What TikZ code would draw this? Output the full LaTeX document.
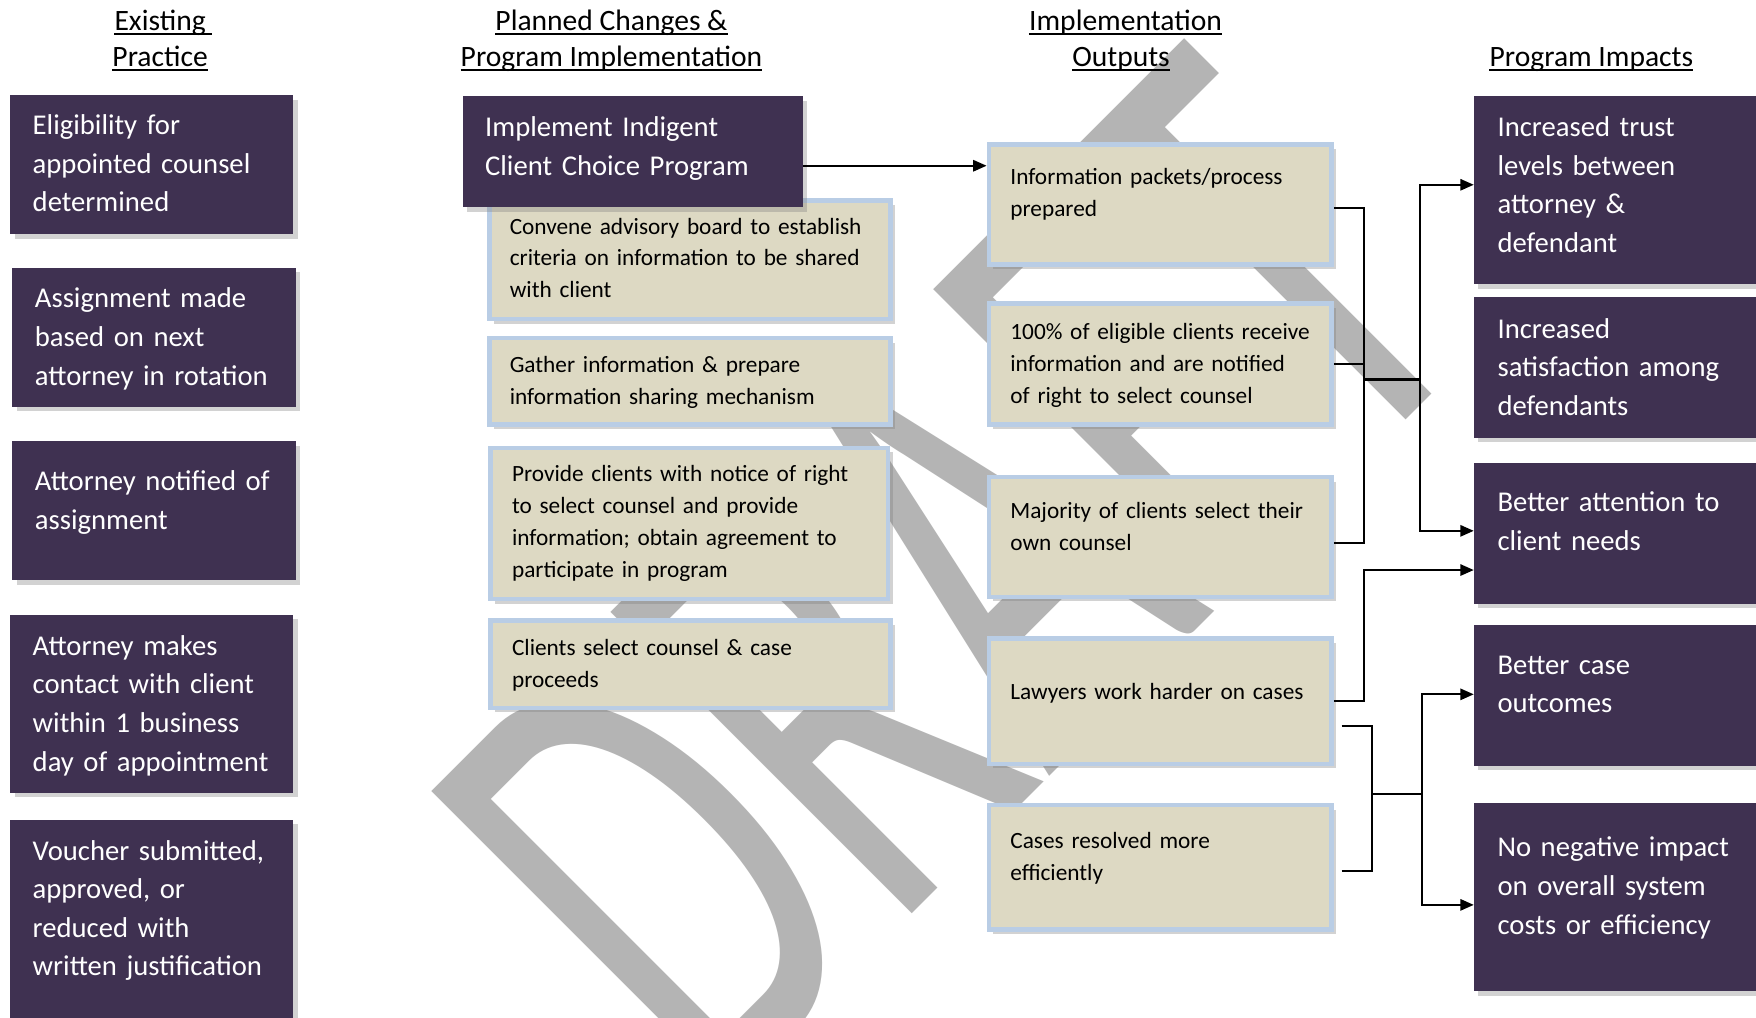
\documentclass[tikz,border=0pt]{standalone}
\usepackage{fontspec}
\setmainfont{Carlito}
\usetikzlibrary{arrows.meta,shadows,calc}
\definecolor{purp}{HTML}{3F3151}
\definecolor{tanf}{HTML}{DDD9C3}
\definecolor{bord}{HTML}{B9CDE5}
\definecolor{wmgray}{RGB}{180,180,180}
\tikzset{
  pbox/.style={fill=purp, draw=none, inner sep=0pt, outer sep=0pt,
    drop shadow={opacity=0.35, shadow xshift=4pt, shadow yshift=-4pt}},
  tbox/.style={fill=tanf, draw=bord, line width=4pt, inner sep=0pt,
    drop shadow={opacity=0.35, shadow xshift=4pt, shadow yshift=-4pt}},
  ptxt/.style={anchor=base west, inner sep=0pt, text=white, align=left,
    text width=250pt, font=\fontsize{25.6}{34.5}\selectfont},
  ttxt/.style={anchor=base west, inner sep=0pt, text=black, align=left,
    text width=330pt, font=\fontsize{20.8}{28.5}\selectfont},
  hdr/.style={anchor=base, inner sep=0pt, font=\fontsize{26.4}{32}\selectfont},
  uline/.style={line width=1.6pt, black},
  conn/.style={line width=1.5pt, black},
  junc/.style={line width=2.4pt, black},
  arr/.style={line width=2pt, black, -{Triangle[length=12pt,width=10pt]}},
}
\begin{document}
\begin{tikzpicture}[x=1pt,y=-1pt]
\useasboundingbox[fill=white] (0,0) rectangle (1568,909);
% watermark
\node[rotate=45, xshift=-27.3pt, yscale=1.625, anchor=north west, inner sep=0pt,
  text=wmgray, font=\fontsize{365}{365}\selectfont] (draft) at (387,705) {DRAFT};
% headers
\node[hdr] (h1a) at (143,27) {Existing};
\node[hdr] (h1b) at (143,59) {Practice};
\node[hdr] (h2a) at (546,27) {Planned Changes \&};
\node[hdr] (h2b) at (546,59) {Program Implementation};
\node[hdr] (h3a) at (1005,27) {Implementation};
\node[hdr] (h3b) at (1001,59) {Outputs};
\node[hdr] (h4) at (1421,59) {Program Impacts};
\foreach \h in {h1b,h2a,h2b,h3a,h3b,h4}
  \draw[uline] ($(\h.base west)+(0,3.5)$) -- ($(\h.base east)+(0,3.5)$);
\draw[uline] ($(h1a.base west)+(0,3.5)$) -- ($(h1a.base east)+(5,3.5)$);
% left column
\node[pbox, minimum width=253, minimum height=124] (l1) at (135.5,147) {};
\node[ptxt] (l1t) at (29,120) {Eligibility for\\appointed counsel\\determined};
\node[pbox, minimum width=253, minimum height=124] (l2) at (137.5,301) {};
\node[ptxt] (l2t) at (31,275) {Assignment made\\based on next\\attorney in rotation};
\node[pbox, minimum width=253, minimum height=124] (l3) at (137.5,456) {};
\node[ptxt] (l3t) at (31,438) {Attorney notified of\\assignment};
\node[pbox, minimum width=253, minimum height=159] (l4) at (135.5,628.5) {};
\node[ptxt] (l4t) at (29,585) {Attorney makes\\contact with client\\within 1 business\\day of appointment};
\node[pbox, minimum width=253, minimum height=184] (l5) at (135.5,824) {};
\node[ptxt] (l5t) at (29,768) {Voucher submitted,\\approved, or\\reduced with\\written justification};
% middle column
\node[tbox, minimum width=358, minimum height=106] (c1) at (616,232) {};
\node[ttxt] (c1t) at (455,209) {Convene advisory board to establish\\criteria on information to be shared\\with client};
\node[pbox, minimum width=304, minimum height=99] (impl) at (565,135.5) {};
\node[ptxt] (implt) at (433,122) {Implement Indigent\\Client Choice Program};
\node[tbox, minimum width=358, minimum height=77] (c2) at (616,340.5) {};
\node[ttxt] (c2t) at (455,333) {Gather information \& prepare\\information sharing mechanism};
\node[tbox, minimum width=355, minimum height=135] (c3) at (615.5,467.5) {};
\node[ttxt] (c3t) at (457,430) {Provide clients with notice of right\\to select counsel and provide\\information; obtain agreement to\\participate in program};
\node[tbox, minimum width=357, minimum height=78] (c4) at (616.5,593) {};
\node[ttxt] (c4t) at (457,585) {Clients select counsel \& case\\proceeds};
% outputs column
\node[tbox, minimum width=306, minimum height=107] (o1) at (1036,182.5) {};
\node[ttxt] (o1t) at (902,165) {Information packets/process\\prepared};
\node[tbox, minimum width=306, minimum height=108] (o2) at (1036,325) {};
\node[ttxt] (o2t) at (902,303) {100\% of eligible clients receive\\information and are notified\\of right to select counsel};
\node[tbox, minimum width=306, minimum height=107] (o3) at (1036,479.5) {};
\node[ttxt] (o3t) at (902,463) {Majority of clients select their\\own counsel};
\node[tbox, minimum width=306, minimum height=112] (o4) at (1036,626) {};
\node[ttxt] (o4t) at (902,625) {Lawyers work harder on cases};
\node[tbox, minimum width=306, minimum height=111] (o5) at (1036,774.5) {};
\node[ttxt] (o5t) at (902,758) {Cases resolved more\\efficiently};
% impacts column
\node[pbox, minimum width=260, minimum height=168] (i1) at (1446,170) {};
\node[ptxt] (i1t) at (1337,122) {Increased trust\\levels between\\attorney \&\\defendant};
\node[pbox, minimum width=260, minimum height=126] (i2) at (1446,328) {};
\node[ptxt] (i2t) at (1337,302) {Increased\\satisfaction among\\defendants};
\node[pbox, minimum width=260, minimum height=126] (i3) at (1446,476) {};
\node[ptxt] (i3t) at (1337,457) {Better attention to\\client needs};
\node[pbox, minimum width=260, minimum height=126] (i4) at (1446,621) {};
\node[ptxt] (i4t) at (1337,602) {Better case\\outcomes};
\node[pbox, minimum width=260, minimum height=168] (i5) at (1446,801) {};
\node[ptxt] (i5t) at (1337,765) {No negative impact\\on overall system\\costs or efficiency};
% connectors
\coordinate (a1) at ($(impl.north east)+(0,62)$);
\draw[arr] (a1) -- (a1 -| o1.west);
\coordinate (j1) at (1218,339);
\coordinate (k1) at (1268,339);
\draw[conn] (o1.east |- 0,186) -| (j1);
\draw[conn] (o2.east |- 0,325) -| (j1);
\draw[conn] (o3.east |- 0,485) -| (j1);
\draw[junc] (j1) -- (k1);
\draw[arr] (k1) |- (i1.west |- 0,165);
\draw[arr] (k1) |- (i3.west |- 0,474);
\draw[arr] (o4.east) -- ++(27,0) |- (i3.west |- 0,509);
\coordinate (s4) at ($(o4.east)+(7,22)$);
\coordinate (s5) at ($(o5.east)+(7,3.5)$);
\coordinate (j2) at (1225,709);
\coordinate (k2) at (1270,709);
\draw[conn] (s4) -| (j2);
\draw[conn] (s5) -| (j2);
\draw[junc] (j2) -- (k2);
\draw[arr] (k2) |- (i4.west |- 0,620);
\draw[arr] (k2) |- (i5.west |- 0,808);
\end{tikzpicture}
\end{document}
